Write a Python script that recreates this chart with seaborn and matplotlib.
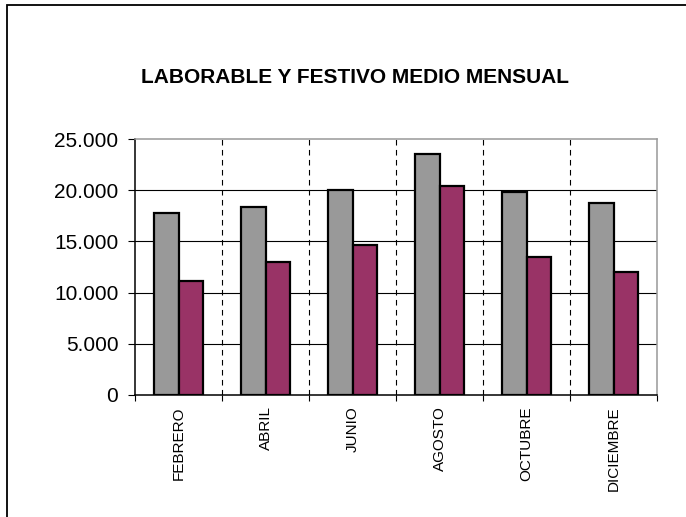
import pandas as pd
import matplotlib.pyplot as plt
import seaborn as sns
from matplotlib.ticker import FuncFormatter
from matplotlib.patches import Rectangle

meses = ["FEBRERO", "ABRIL", "JUNIO", "AGOSTO", "OCTUBRE", "DICIEMBRE"]
laborable = [17800, 18400, 20000, 23500, 19850, 18800]
festivo = [11150, 12950, 14650, 20450, 13450, 12000]

df = pd.DataFrame({
    "Mes": meses * 2,
    "Valor": laborable + festivo,
    "Tipo": ["Laborable"] * len(meses) + ["Festivo"] * len(meses),
})

sns.set_style("white")
plt.rcParams["font.family"] = ["Liberation Sans", "DejaVu Sans"]
plt.rcParams["text.color"] = "black"
plt.rcParams["xtick.color"] = "black"
plt.rcParams["ytick.color"] = "black"

fig = plt.figure(figsize=(6.86, 5.17), dpi=100)
ax = fig.add_axes([0.1968, 0.236, 0.761, 0.495])

sns.barplot(data=df, x="Mes", y="Valor", hue="Tipo", order=meses,
            palette=["#999999", "#993366"], width=0.57, edgecolor="black",
            linewidth=1.6, saturation=1, legend=False, ax=ax)

ax.set_xlim(-0.5, len(meses) - 0.5)
ax.set_ylim(0, 25000)
ax.set_yticks(range(0, 25001, 5000))
ax.yaxis.set_major_formatter(FuncFormatter(lambda v, p: f"{int(v):,}".replace(",", ".")))

# ticks at category boundaries, labels at centres
bounds = [i - 0.5 for i in range(len(meses) + 1)]
ax.set_xticks(bounds)
ax.set_xticklabels([])
ax.set_xticks(range(len(meses)), minor=True)
ax.set_xticklabels(meses, minor=True, rotation=90, fontsize=11)
ax.tick_params(axis="x", which="minor", length=0, pad=8)
ax.tick_params(axis="x", which="major", length=4, width=0.8, direction="out", bottom=True)
ax.tick_params(axis="y", length=5, width=0.8, direction="out", left=True,
               labelsize=15, pad=7)

for y in range(5000, 25000, 5000):
    ax.axhline(y, color="black", linewidth=0.8, zorder=0)
for x in bounds[1:-1]:
    ax.axvline(x, color="black", linewidth=0.8, linestyle=(0, (5, 4)), zorder=0)

ax.set_xlabel("")
ax.set_ylabel("")
ax.spines["left"].set_color("black")
ax.spines["bottom"].set_color("black")
ax.spines["top"].set_color("#999999")
ax.spines["right"].set_color("#999999")
for s in ax.spines.values():
    s.set_linewidth(1.1)
    s.set_visible(True)

fig.text(0.517, 0.850, "LABORABLE Y FESTIVO MEDIO MENSUAL", ha="center", va="center",
         fontsize=15, fontweight="bold")

fig.patches.append(Rectangle((0.0102, -0.01), 1.0, 1.0003, transform=fig.transFigure,
                             fill=False, edgecolor="black", linewidth=1.3))

fig.savefig("out.png", dpi=100)
